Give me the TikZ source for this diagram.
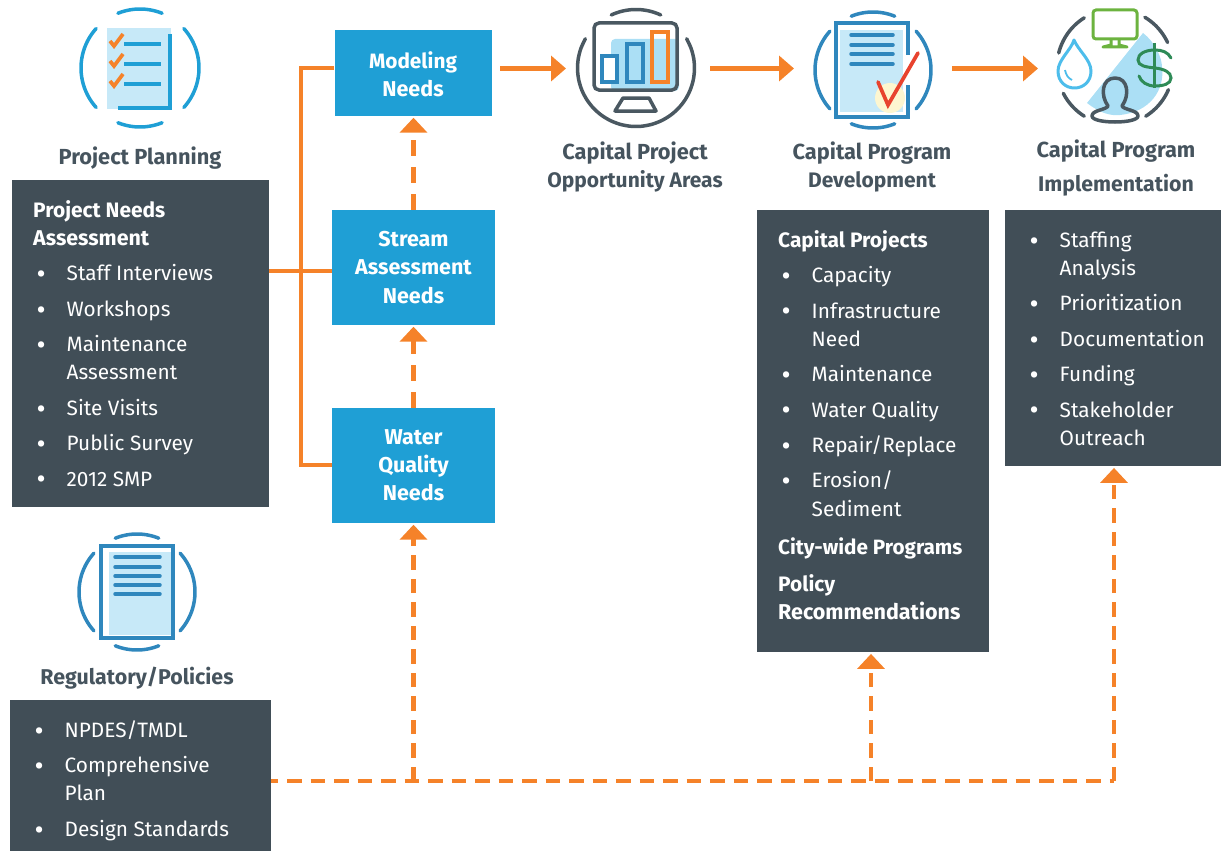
\documentclass[tikz,border=0pt]{standalone}
\usepackage{fontspec}
\setmainfont{Fira Sans}
\usetikzlibrary{arrows.meta,calc}
\definecolor{slate}{HTML}{414E57}
\definecolor{boxblue}{HTML}{1F9FD5}
\definecolor{org}{HTML}{F58229}
\definecolor{titlec}{HTML}{46545E}
\definecolor{paper}{HTML}{C7E9F8}
\definecolor{skyfill}{HTML}{ABDFF5}
\definecolor{midblue}{HTML}{2F87BD}
\definecolor{ringblue}{HTML}{1F9FD5}
\definecolor{ringdark}{HTML}{4A5861}
\definecolor{cream}{HTML}{FDF6D0}
\definecolor{redcheck}{HTML}{E8432E}
\definecolor{green1}{HTML}{6CB33F}
\definecolor{green2}{HTML}{2E8B57}
\definecolor{drop}{HTML}{4DBDEB}
\newcommand{\ringarc}[5]{\draw[domain=#4:#5,samples=24,smooth,line cap=round] plot ({#1+#3*cos(\x)},{#2+#3*sin(\x)});}
\newcommand{\docring}[3]{%
 \ringarc{#1}{#2}{#3}{-42}{42}\ringarc{#1}{#2}{#3}{138}{222}%
 \ringarc{#1}{#2}{#3}{-112}{-68}\ringarc{#1}{#2}{#3}{68}{112}}
\newcommand{\bu}{\makebox[0pt][l]{\hspace{3.5pt}\raisebox{-2.8pt}{\fontsize{28}{28}\selectfont •}}\hspace*{33.5pt}}
\newcommand{\ind}{\hspace*{33.5pt}}
\newcommand{\hd}[2][20.9]{{\fontsize{#1}{28.2}\selectfont\bfseries #2}}
\newcommand{\tl}[2]{\fontsize{#1}{28.2}\selectfont #2}
\newcommand{\boxtext}[5]{\parbox[t][#1pt][t]{#2pt}{\setlength{\parindent}{0pt}\setlength{\baselineskip}{28.2pt}\setlength{\lineskiplimit}{-100pt}\raggedright\leftskip=#3pt\relax\rule{0pt}{#4pt}#5}}
\newcommand{\bl}[2][21.5]{\raisebox{-1.4pt}{\fontsize{#1}{28.2}\selectfont #2}}
\tikzset{
 darkbox/.style={fill=slate,text=white,inner sep=0pt,anchor=north west,font=\fontsize{20.8}{28.2}\selectfont},
 bluebox/.style={fill=boxblue,text=white,inner sep=0pt,align=center,font=\fontsize{21.5}{28.2}\selectfont\bfseries},
 ttl/.style={text=titlec,inner sep=0pt,align=center,font=\fontsize{21.8}{28.2}\selectfont\bfseries},
 flow/.style={draw=org,line width=4.7pt},
 flowarrow/.style={flow,-{Triangle[length=15pt,width=25pt]}},
 dashflow/.style={flow,dash pattern=on 14.5pt off 9pt},
 dasharrow/.style={dashflow,shorten >=1.5pt,-{Triangle[length=15pt,width=27pt]}},
 linkarrow/.style={dasharrow,dash pattern=on 16pt off 11pt},
}
\begin{document}
\begin{tikzpicture}[x=1pt,y=-1pt]
\useasboundingbox (0,0) rectangle (1221,851);
% dark boxes
\node[darkbox] (needs) at (12,180) {\boxtext{327}{257}{21}{37}{\hd{Project Needs}\\[0pt]\hd[21.4]{Assessment}\\[7.2pt]
\bu Staff Interviews\\[7.2pt]\bu Workshops\\[7.2pt]\bu Maintenance\\\ind Assessment\\[7.2pt]\bu Site Visits\\[7.2pt]\bu Public Survey\\[7.2pt]\bu 2012 SMP}};
\node[darkbox] (reg) at (10,700) {\boxtext{151}{261}{21}{37}{\bu NPDES/TMDL\\[7.2pt]\bu Comprehensive\\\ind Plan\\[7.2pt]\bu Design Standards}};
\node[darkbox] (cap) at (757,210) {\boxtext{442}{232}{21}{37}{\hd{Capital Projects}\\[7.2pt]\bu Capacity\\[7.2pt]\bu Infrastructure\\\ind Need\\[7.2pt]\bu Maintenance\\[7.2pt]\bu Water Quality\\[7.2pt]\bu Repair/Replace\\[7.2pt]\bu Erosion/\\\ind Sediment\\[10pt]\hd[20.7]{City-wide Programs}\\[9pt]\hd{Policy}\\\hd[21.5]{Recommendations}}};
\node[darkbox] (impl) at (1005,210) {\boxtext{256}{216}{21}{37}{\bu Staffing\\\ind Analysis\\[7.2pt]\bu Prioritization\\[7.2pt]\bu Documentation\\[7.2pt]\bu Funding\\[7.2pt]\bu Stakeholder\\\ind Outreach}};
% blue boxes
\node[bluebox,minimum width=157pt,minimum height=86pt,text depth=0pt] (model) at (413,73) {\bl[20.8]{Modeling}\\\bl{Needs}};
\node[bluebox,minimum width=163pt,minimum height=115pt] (stream) at (413.5,267.5) {\bl{Stream}\\\bl{Assessment}\\\bl{Needs}};
\node[bluebox,minimum width=163pt,minimum height=115pt] (water) at (413.5,465.5) {\bl{Water}\\\bl{Quality}\\\bl{Needs}};
% titles
\node[ttl] (t1) at (140,158) {Project Planning};
\node[ttl] (t2) at (137,678) {\tl{21.4}{Regulatory/Policies}};
\node[ttl] (t3) at (635,167) {Capital Project\\\tl{21}{Opportunity Areas}};
\node[ttl] (t4) at (872,167) {Capital Program\\\tl{21}{Development}};
\node[ttl] (t5) at (1116,151) {Capital Program};
\node[ttl] (t6) at (1116,185) {\tl{21.3}{Implementation}};
% icon 1
\begin{scope}[line width=3.5pt,draw=ringblue]
\docring{140}{68}{59}
\fill[paper] (107,28) rectangle (171,109);
\draw (170,34) -- (170,108) -- (118,108);
\foreach \yy in {44,64,84}{
 \draw (124,\yy) -- (161,\yy);
 \draw[org,line width=3.7pt] (110,\yy-3) -- (114,\yy+2) -- (123,\yy-10);
}
\end{scope}
% icon 2
\begin{scope}[line width=3.5pt,draw=ringdark]
\ringarc{636}{68}{58.5}{-30}{210}
\ringarc{636}{68}{58.5}{-115}{-65}
\fill[skyfill,rounded corners=4pt] (611,39) rectangle (679,91);
\draw[rounded corners=5pt] (594,23) rectangle (677,90);
\draw[line join=round] (623,98) -- (649,98) -- (656,111) -- (615,111) -- cycle;
\draw[midblue,fill=white] (602,56) rectangle (617,82);
\draw[midblue] (627,44) rectangle (643,82);
\draw[org] (652,32) rectangle (668,82);
\end{scope}
% icon 3
\begin{scope}[line width=3.5pt,draw=midblue]
\docring{873}{70}{58}
\fill[paper] (840,30) rectangle (903,112);
\begin{scope}
\clip (840,30) rectangle (908,114);
\fill[cream] (890,98) circle (15pt);
\end{scope}
\draw (908,55) -- (908,23) -- (836,23) -- (836,117) -- (908,117) -- (908,85);
\foreach \yy in {35,45,54,64}{\draw[line cap=round] (851,\yy) -- (893,\yy);}
\draw[redcheck,line width=3.7pt,line cap=round,line join=miter] (878,82) -- (888,105) -- (918,53);
\end{scope}
% icon 4
\begin{scope}[line width=3.5pt,draw=ringdark]
\fill[skyfill] (1143,33) -- (1087,103) .. controls (1100,113) and (1110,116) .. (1120,115) .. controls (1150,112) and (1165,90) .. (1162,67) .. controls (1162,58) and (1155,42) .. (1143,33) -- cycle;
\ringarc{1115}{67}{58}{194}{238}
\ringarc{1115}{67}{58}{-59}{-25}
\ringarc{1115}{67}{58}{23}{58}
\ringarc{1115}{67}{58}{122}{153}
\draw[green1,line width=3pt,rounded corners=3pt] (1093,10) rectangle (1137,39);
\draw[green1,line width=3pt,line join=round] (1111,39) -- (1111,45) -- (1103,47) -- (1127,47) -- (1119,45) -- (1119,39);
\draw[drop,line width=3pt,line join=round] (1074,40) .. controls (1078,50) and (1091,60) .. (1091,71) .. controls (1091,82) and (1083,88) .. (1074.5,88) .. controls (1066,88) and (1058,82) .. (1058,71) .. controls (1058,60) and (1071,50) .. (1074,40) -- cycle;
\draw[drop,line width=1.8pt] (1065,70) .. controls (1066,75) and (1068,78) .. (1072,80);
\draw[green2,line width=3pt] (1154.5,43) -- (1154.5,88);
\draw[green2,line width=3pt,line cap=round] (1171,58) .. controls (1168,52) and (1162,50) .. (1155,50) .. controls (1145,50) and (1138,54) .. (1138,60) .. controls (1138,66) and (1146,67) .. (1155,68) .. controls (1164,69) and (1171,72) .. (1171,78) .. controls (1171,84) and (1163,86) .. (1155,86) .. controls (1147,86) and (1141,82) .. (1139,76);
\draw[line join=round] (1108,106) .. controls (1100,95) and (1102,78) .. (1115,78) .. controls (1128,78) and (1130,95) .. (1122,106) .. controls (1124,110) and (1138,110) .. (1138,116) .. controls (1138,124) and (1092,124) .. (1092,116) .. controls (1092,110) and (1106,110) .. (1108,106) -- cycle;
\end{scope}
% icon 5
\begin{scope}[line width=3.5pt,draw=midblue]
\docring{137}{592}{58}
\fill[paper] (109,552) rectangle (171,635);
\draw (101,546) rectangle (173,638);
\foreach \yy in {557,567,576,585,594}{\draw[line cap=round] (115,\yy) -- (160,\yy);}
\end{scope}
% connectors
\coordinate (trunkTop) at (301,68);
\coordinate (trunkMid) at (301,271);
\coordinate (trunkBot) at (301,465);
\draw[flow] (needs.east |- trunkMid) -- (stream.west |- trunkMid);
\draw[flow,line join=miter] (model.west |- trunkTop) -- (trunkTop) -- (trunkBot) -- (water.west |- trunkBot);
\coordinate (icon2w) at (566,68.5);
\coordinate (icon2e) at (710,68.5);
\coordinate (icon3w) at (794,68.5);
\coordinate (icon3e) at (952,68.5);
\coordinate (icon4w) at (1038,68.5);
\coordinate (modelOut) at (500,68.5);
\draw[flowarrow] (modelOut) -- (icon2w);
\draw[flowarrow] (icon2e) -- (icon3w);
\draw[flowarrow] (icon3e) -- (icon4w);
\draw[linkarrow] (water.north) -- (stream.south);
\draw[linkarrow] (stream.north) -- (model.south -| stream.north);
\coordinate (busStart) at (271,781);
\coordinate (busEnd) at (1114,781);
\coordinate (busWater) at (413.5,781);
\coordinate (busCap) at (871,781);
\draw[dashflow,dash phase=7.5pt] (busStart) -- (busEnd);
\draw[dasharrow] (busEnd) -- (busEnd |- impl.south);
\draw[dasharrow] (busWater) -- (water.south);
\draw[dasharrow] (busCap) -- (busCap |- cap.south);
\end{tikzpicture}
\end{document}
